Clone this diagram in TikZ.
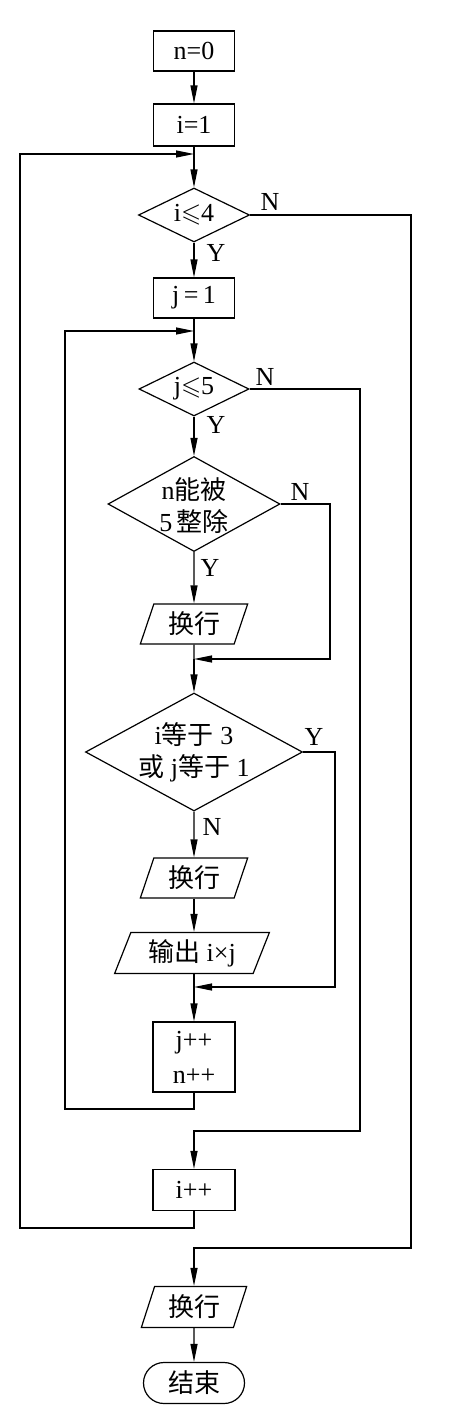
\documentclass[tikz,border=0pt]{standalone}
\usepackage{fontspec}
\usepackage{amssymb}
\setmainfont{Liberation Serif}
\newfontfamily\cjkf{Noto Sans CJK SC}
\newcommand{\zh}[1]{{\cjkf #1}}
\usetikzlibrary{shapes.geometric,shapes.misc,arrows.meta}
\begin{document}
\begin{tikzpicture}[x=1pt,y=-1pt,
  every node/.style={font=\fontsize{26}{32}\selectfont},
  proc/.style={draw, rectangle, line width=1.2pt, inner sep=0pt, minimum width=81pt, minimum height=40pt},
  dec/.style={draw, diamond, line width=1.2pt, inner sep=0pt},
  io/.style={draw, trapezium, trapezium left angle=70, trapezium right angle=110, trapezium stretches=true, line width=1.2pt, inner sep=0pt, minimum height=40pt},
  term/.style={draw, rounded rectangle, line width=1.2pt, inner sep=0pt, minimum width=101pt, minimum height=41pt},
  txt/.style={inner sep=0pt, align=center},
  lbl/.style={inner sep=0pt},
  conn/.style={line width=1.2pt},
  arr/.style={line width=1.2pt, -{Triangle[length=18pt,width=7pt]}}]
\useasboundingbox (0,0) rectangle (452,1411);

% main column
\node[proc] (n0) at (194,51) {n=0};
\node[proc, minimum height=42pt] (i1) at (194,125) {i=1};
\coordinate (m1) at (194,154);
\node[dec, minimum width=111pt, minimum height=54pt] (d1) at (194,215) {};
\node[txt] (d1t) at (d1) {i$\leqslant$4};
\node[proc] (j1) at (194,298) {j\,=\,1};
\coordinate (m2) at (194,331);
\node[dec, minimum width=110pt, minimum height=54pt] (d2) at (194,389) {};
\node[txt] (d2t) at (d2) {j$\leqslant$5};
\node[dec, minimum width=172pt, minimum height=95pt] (d3) at (194,504) {};
\node[txt] (d3t) at ([yshift=-2pt]d3) {n\zh{能被}\\5\,\zh{整除}};
\node[io, minimum width=108pt] (p1) at (194,624) {\zh{换行}};
\coordinate (m3) at (194,659);
\node[dec, minimum width=217pt, minimum height=118pt] (d4) at (194,752) {};
\node[txt] (d4t) at (d4) {i\zh{等于} 3\\\zh{或} j\zh{等于} 1};
\node[io, minimum width=108pt] (p2) at (194,878) {\zh{换行}};
\node[io, minimum width=155pt, minimum height=41pt, trapezium left angle=67, trapezium right angle=113] (p3) at (192,953) {\zh{输出} i×j};
\coordinate (m4) at (194,987);
\node[proc, minimum width=82pt, minimum height=70pt, align=center] (b1) at (194,1057) {j++\\[3pt]n++};
\node[proc, minimum width=82pt, minimum height=41pt] (ipp) at (194,1190) {i++};
\node[io, minimum width=106pt, minimum height=41pt] (p4) at (194,1307) {\zh{换行}};
\node[term] (end) at (194,1383) {\zh{结束}};

% turning points
\coordinate (L1) at (20,1228);
\coordinate (L2) at (65,1109);
\coordinate (R1) at (411,1248);
\coordinate (R2) at (360,1131);
\coordinate (R3) at (330,659);
\coordinate (R4) at (335,987);

% straight connectors
\draw[arr] (n0) -- (i1);
\draw[conn] (i1.south) -- (m1);
\draw[arr] (m1) -- (d1.north);
\draw[arr] (d1.south) -- (j1.north);
\draw[conn] (j1.south) -- (m2);
\draw[arr] (m2) -- (d2.north);
\draw[arr] (d2.south) -- (d3.north);
\draw[arr] (d3.south) -- (p1.north);
\draw[conn] (p1.south) -- (m3);
\draw[arr] (m3) -- (d4.north);
\draw[arr] (d4.south) -- (p2.north);
\draw[arr] (p2.south) -- (p3.north -| p2.south);
\draw[conn] (p3.south -| m4) -- (m4);
\draw[arr] (m4) -- (b1.north);
\draw[arr] (p4.south) -- (end.north);

% branches and loops
\draw[arr] (d3.east) -| (R3) -- (m3);
\draw[arr] (d4.east) -| (R4) -- (m4);
\draw[arr] (b1.south) |- (L2) |- (m2);
\draw[arr] (ipp.south) |- (L1) |- (m1);
\draw[arr] (d2.east) -| (R2) -| (ipp.north);
\draw[arr] (d1.east) -| (R1) -| (p4.north);

% labels
\node[lbl] (lN1) at (270,202) {N};
\node[lbl] (lY1) at (216,253) {Y};
\node[lbl] (lN2) at (265,377) {N};
\node[lbl] (lY2) at (216,425) {Y};
\node[lbl] (lN3) at (300,492) {N};
\node[lbl] (lY3) at (210,568) {Y};
\node[lbl] (lY4) at (314,737) {Y};
\node[lbl] (lN4) at (212,827) {N};
\end{tikzpicture}
\end{document}
